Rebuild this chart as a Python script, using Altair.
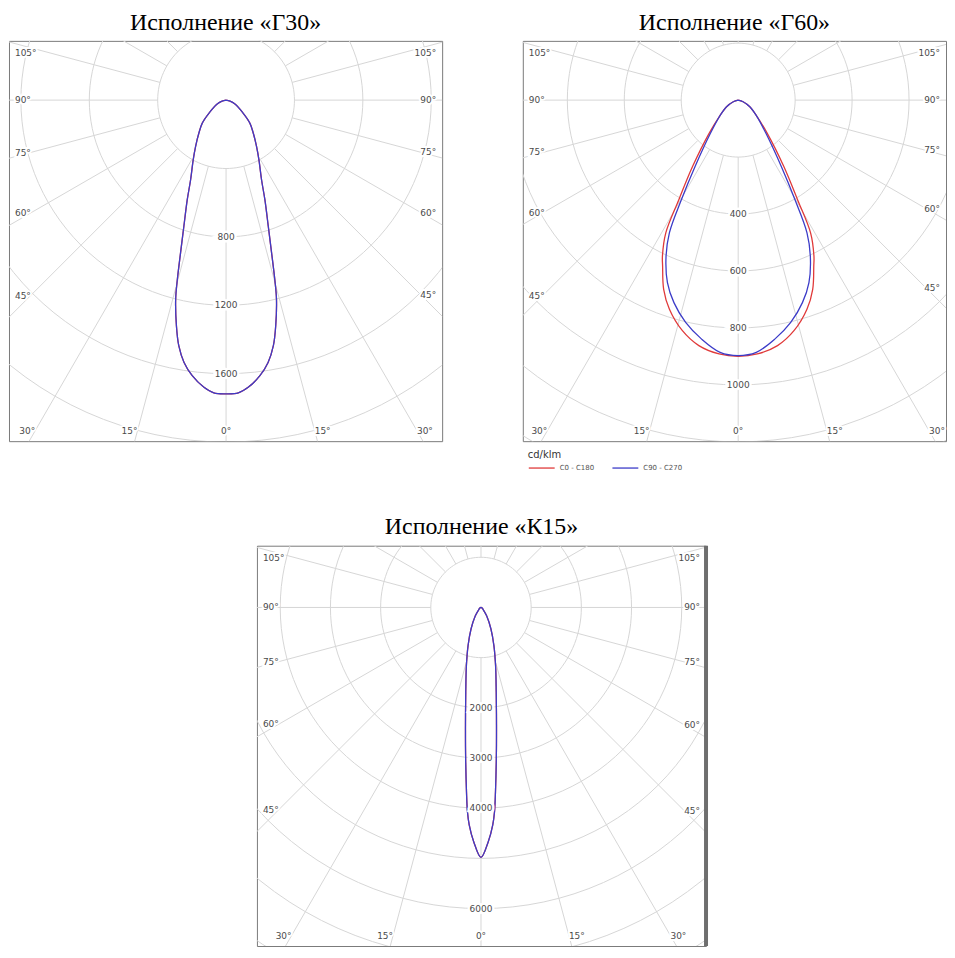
import math
import altair as alt
import pandas as pd

# ---------------- values (cd/klm) ----------------
# Исполнение «Г30» (C0-C180 and C90-C270 coincide)
g30_gamma = [0, 2.4, 4.4, 7.0, 9.1, 10.9, 12.4, 14.2, 15.2, 16.6, 18.5, 21.3, 24.0, 28.8, 33.3, 39.4, 45.8, 52.4, 66, 76, 90]
g30_c0 = [1718, 1714, 1685, 1624, 1554, 1463, 1352, 1202, 1087, 932, 778, 625, 510, 399, 325, 251, 195, 127, 57, 24, 0]
g30_c90 = [1718, 1714, 1685, 1624, 1554, 1463, 1352, 1202, 1087, 932, 778, 625, 510, 399, 325, 251, 195, 127, 57, 24, 0]

# Исполнение «Г60»
g60_gamma_c0 = [0, 4.3, 9.1, 13.6, 18.2, 21.5, 24.5, 25.9, 28.6, 30.8, 34.5, 41.2, 49.5, 60.3, 71.6, 90]
g60_c0 = [900, 894, 873, 833, 773, 714, 640, 609, 531, 407, 283, 155, 84, 47, 18, 0]
g60_gamma_c90 = [0, 4.1, 8.7, 13.3, 17.6, 21.2, 24.8, 27.4, 29.7, 33.0, 39.9, 49.5, 60.3, 71.6, 90]
g60_c90 = [897, 888, 849, 802, 746, 687, 604, 525, 402, 278, 152, 84, 47, 18, 0]

# Исполнение «К15» (both planes coincide)
k15_gamma = [0, 1.8, 3.1, 3.8, 4.5, 5.8, 7.5, 10.2, 14.1, 18.7, 24.8, 34.2, 45, 60, 90]
k15_c0 = [4980, 4665, 4338, 4076, 3682, 3024, 2368, 1714, 1193, 803, 473, 200, 65, 25, 0]
k15_c90 = [4980, 4665, 4338, 4076, 3682, 3024, 2368, 1714, 1193, 803, 473, 200, 65, 25, 0]

series_names = ["C0 - C180", "C90 - C270"]
series_colors = ["#e03a3a", "#3c3cc8"]

titles = ["Исполнение «Г30»", "Исполнение «Г60»", "Исполнение «К15»"]
ring_values = [
    [400, 800, 1200, 1600, 2000, 2400],
    [200, 400, 600, 800, 1000, 1200, 1400],
    [1000, 2000, 3000, 4000, 5000, 6000, 7000, 8000],
]
ring_labels = [[800, 1200, 1600], [400, 600, 800, 1000], [2000, 3000, 4000, 6000]]
side_angles = [45, 60, 75, 90, 105]
bottom_angles = [0, 15, 30]
spoke_angles = list(range(0, 360, 15))

FONT_T = "Liberation Serif"
FONT_L = "DejaVu Sans"
GRID = "#d6d6d6"
LABEL = "#4a4a4a"


def curve_table(pairs):
    rows = []
    for name, gam, val in pairs:
        k = 0
        for g, v in reversed(list(zip(gam, val))):
            rows.append(dict(series=name, side=-1, gamma=g, I=v, order=k))
            k += 1
        for g, v in list(zip(gam, val))[1:]:
            rows.append(dict(series=name, side=1, gamma=g, I=v, order=k))
            k += 1
    return pd.DataFrame(rows)


def make_panel(title, pairs, rings, labels, width, height, cx, cy, px_per_unit,
               side_d_px, title_gap, legend=False, right_border=False):
    u = 1.0 / px_per_unit
    xdom = [-cx * u, (width - cx) * u]
    ydom = [-(height - cy) * u, cy * u]
    xs = alt.Scale(domain=xdom, nice=False, zero=False)
    ys = alt.Scale(domain=ydom, nice=False, zero=False)
    X = lambda f: alt.X(f, type="quantitative", scale=xs, axis=None)
    Y = lambda f: alt.Y(f, type="quantitative", scale=ys, axis=None)

    # grid rings
    ring_df = pd.DataFrame([dict(ring=r, a=a) for r in rings for a in range(0, 361, 3)])
    ring_layer = alt.Chart(ring_df).transform_calculate(
        x="datum.ring * sin(datum.a * PI / 180)",
        y="-datum.ring * cos(datum.a * PI / 180)",
    ).mark_line(color=GRID, strokeWidth=1, clip=True).encode(
        x=X("x"), y=Y("y"), detail="ring:N", order="a:Q",
    )

    # spokes from the first ring outward
    spoke_df = pd.DataFrame([dict(a=a, r0=rings[0], r1=rings[-1] * 2) for a in spoke_angles])
    spoke_layer = alt.Chart(spoke_df).transform_calculate(
        x="datum.r0 * sin(datum.a * PI / 180)",
        y="-datum.r0 * cos(datum.a * PI / 180)",
        x2="datum.r1 * sin(datum.a * PI / 180)",
        y2="-datum.r1 * cos(datum.a * PI / 180)",
    ).mark_rule(color=GRID, strokeWidth=1, clip=True).encode(
        x=X("x"), y=Y("y"), x2="x2:Q", y2="y2:Q",
    )

    # light distribution curves
    cdf = curve_table(pairs)
    cscale = alt.Scale(domain=series_names, range=series_colors)
    if legend:
        leg = alt.Legend(
            title="cd/klm", orient="none", legendX=5, legendY=411,
            direction="horizontal", symbolType="stroke", symbolSize=676,
            symbolStrokeWidth=1.3, labelFont=FONT_L, labelFontSize=7,
            labelColor="#555555", titleFont=FONT_L, titleFontSize=10,
            titleFontWeight="normal", titleColor="#333333", columnPadding=15,
            labelOffset=4, titlePadding=-6, padding=0,
        )
        color = alt.Color("series:N", scale=cscale, legend=leg)
    else:
        color = alt.Color("series:N", scale=cscale, legend=None)
    curve_layer = alt.Chart(cdf).transform_calculate(
        x="datum.side * datum.I * sin(datum.gamma * PI / 180)",
        y="-datum.I * cos(datum.gamma * PI / 180)",
    ).mark_line(strokeWidth=1.3, interpolate="catmull-rom", clip=True).encode(
        x=X("x"), y=Y("y"), color=color, detail="series:N", order="order:Q",
    )

    # ring value labels along 0°
    lab_df = pd.DataFrame(dict(v=labels, t=[str(v) for v in labels], x=[0] * len(labels)))
    lab_base = alt.Chart(lab_df).transform_calculate(y="-datum.v").encode(
        x=X("x"), y=Y("y"), text="t:N",
    )
    lab_halo = lab_base.mark_text(font=FONT_L, fontSize=9, color="white", stroke="white",
                                  strokeWidth=5, baseline="middle")
    lab_text = lab_base.mark_text(font=FONT_L, fontSize=9, color=LABEL, baseline="middle")

    # angle labels on the frame
    left_rows, right_rows, bottom_rows = [], [], []
    for side, x_edge, store in [(-1, xdom[0], left_rows), (1, xdom[1], right_rows)]:
        d = abs(x_edge) - side_d_px * u
        for g in side_angles:
            y = 0.0 if g == 90 else -d / math.tan(math.radians(g))
            y = min(y, ydom[1] - 12 * u)
            store.append(dict(t=f"{g}°", x=x_edge - side * 6 * u, y=y))
    yb = ydom[0] + 10.5 * u
    for g in bottom_angles:
        if g == 0:
            bottom_rows.append(dict(t="0°", x=0.0, y=yb))
        else:
            for side in (-1, 1):
                bottom_rows.append(dict(t=f"{g}°", x=side * ((-yb) * math.tan(math.radians(g)) + 8 * u), y=yb))

    def text_layers(rows, align):
        base = alt.Chart(pd.DataFrame(rows)).encode(x=X("x"), y=Y("y"), text="t:N")
        halo = base.mark_text(font=FONT_L, fontSize=9, color="white", stroke="white",
                              strokeWidth=4, align=align, baseline="middle")
        txt = base.mark_text(font=FONT_L, fontSize=9, color=LABEL, align=align, baseline="middle")
        return [halo, txt]

    # panel title above the frame
    tdf = pd.DataFrame(dict(t=[title], x=[(xdom[0] + xdom[1]) / 2], y=[ydom[1] + title_gap * u]))
    title_layer = alt.Chart(tdf).mark_text(
        font=FONT_T, fontSize=24, color="black", align="center", baseline="top"
    ).encode(x=X("x"), y=Y("y"), text="t:N")

    layers = [ring_layer, spoke_layer, curve_layer, lab_halo, lab_text]
    layers += text_layers(left_rows, "left")
    layers += text_layers(right_rows, "right")
    layers += text_layers(bottom_rows, "center")
    layers.append(title_layer)

    if right_border:
        bdf = pd.DataFrame(dict(x=[xdom[1]], y=[ydom[0]], y2=[ydom[1]]))
        border = alt.Chart(bdf).mark_rule(color="#6e6e6e", strokeWidth=4).encode(
            x=X("x"), y=Y("y"), y2="y2:Q",
        )
        layers.append(border)

    return alt.layer(*layers).properties(width=width, height=height)


p1 = make_panel(titles[0], [(series_names[0], g30_gamma, g30_c0), (series_names[1], g30_gamma, g30_c90)],
                ring_values[0], ring_labels[0], 435, 402, 218, 59.5, 0.1717, 21, 29.5)
p2 = make_panel(titles[1], [(series_names[0], g60_gamma_c0, g60_c0), (series_names[1], g60_gamma_c90, g60_c90)],
                ring_values[1], ring_labels[1], 425, 402, 216.3, 59.5, 0.286, 20, 29.5, legend=True)
p3 = make_panel(titles[2], [(series_names[0], k15_gamma, k15_c0), (series_names[1], k15_gamma, k15_c90)],
                ring_values[2], ring_labels[2], 451, 402, 225, 62, 0.0504, 22, 31, right_border=True)

# invisible spacer that puts the third panel where the reference has it
spacer = alt.Chart(pd.DataFrame(dict(v=[0.5]))).mark_point(opacity=0, size=1).encode(
    x=alt.X("v:Q", scale=alt.Scale(domain=[0, 1]), axis=None),
    y=alt.Y("v:Q", scale=alt.Scale(domain=[0, 1]), axis=None),
).properties(width=247, height=10, view=alt.ViewBackground(stroke="transparent"))

top = alt.hconcat(p1, p2, spacing=79).resolve_scale(color="independent")
bottom = alt.hconcat(spacer, p3, spacing=0).resolve_scale(color="independent", x="independent", y="independent")
chart = alt.vconcat(top, bottom, spacing=42).resolve_scale(color="independent").properties(
    padding=0
).configure_view(stroke="#7a7a7a", strokeWidth=1)

chart.save("out.html", embed_options={"renderer": "svg", "actions": False})
